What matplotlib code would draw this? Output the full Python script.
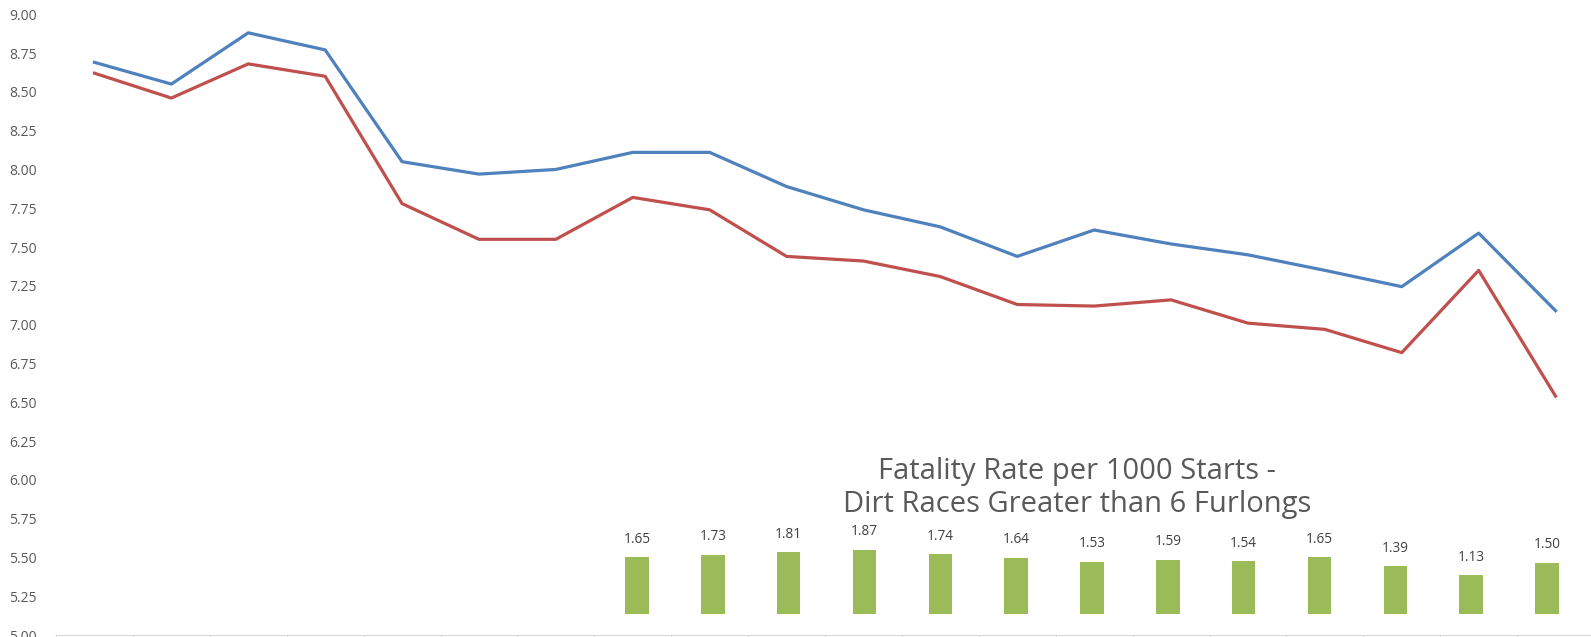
import matplotlib.pyplot as plt
import numpy as np

plt.rcParams["font.family"] = ["Open Sans", "DejaVu Sans"]

# main line series (20 periods)
blue_rate = [8.69, 8.55, 8.88, 8.77, 8.05, 7.97, 8.00, 8.11, 8.11, 7.89,
             7.74, 7.63, 7.44, 7.61, 7.52, 7.45, 7.35, 7.245, 7.59, 7.09]
red_rate = [8.62, 8.46, 8.68, 8.60, 7.78, 7.55, 7.55, 7.82, 7.74, 7.44,
            7.41, 7.31, 7.13, 7.12, 7.16, 7.01, 6.97, 6.82, 7.35, 6.54]

# inset bars: dirt races > 6 furlongs
dirt_rate = [1.65, 1.73, 1.81, 1.87, 1.74, 1.64, 1.53, 1.59, 1.54, 1.65, 1.39, 1.13, 1.50]
inset_title = "Fatality Rate per 1000 Starts -\nDirt Races Greater than 6 Furlongs"

W, H = 1591, 637
fig = plt.figure(figsize=(W / 100, H / 100), dpi=100)

# main chart
ax = fig.add_axes([56 / W, 1.8 / H, (1594 - 56) / W, (635.2 - 14.2) / H])
x = np.arange(len(blue_rate)) + 0.5
ax.plot(x, blue_rate, color="#4F81BD", linewidth=2.3, solid_joinstyle="round")
ax.plot(x, red_rate, color="#C0504D", linewidth=2.3, solid_joinstyle="round")
ax.set_xlim(0, len(blue_rate))
ax.set_ylim(5, 9)
ax.set_yticks(np.arange(5, 9.01, 0.25))
ax.set_yticklabels([f"{v:.2f}" for v in np.arange(5, 9.01, 0.25)])
ax.set_xticks(np.arange(0, len(blue_rate) + 1))
ax.set_xticklabels([])
for s in ["top", "right", "left"]:
    ax.spines[s].set_visible(False)
ax.spines["bottom"].set_color("#D9D9D9")
ax.tick_params(axis="x", direction="out", length=5, color="#D9D9D9")
ax.tick_params(axis="y", length=0, labelsize=10, labelcolor="#595959", pad=14)
ax.patch.set_alpha(0)

# inset bar chart
ax2 = fig.add_axes([599 / W, (H - 614.3) / H, (1585 - 599) / W, 2.5 * 34.45 / H])
xb = np.arange(len(dirt_rate))
bars = ax2.bar(xb, dirt_rate, width=0.31, color="#9BBB59")
for b, v in zip(bars, dirt_rate):
    ax2.annotate(f"{v:.2f}", (b.get_x() + b.get_width() / 2, v), xytext=(0, 7.5),
                 textcoords="offset points", ha="center", va="bottom",
                 fontsize=9.8, color="#404040")
ax2.set_xlim(-0.5, len(dirt_rate) - 0.5)
ax2.set_ylim(0, 2.5)
ax2.axis("off")

fig.text(1077 / W, 1 - 488 / H, inset_title, ha="center", va="center",
         fontsize=21, color="#595959", linespacing=1.2)

fig.savefig("out.png", dpi=100)
